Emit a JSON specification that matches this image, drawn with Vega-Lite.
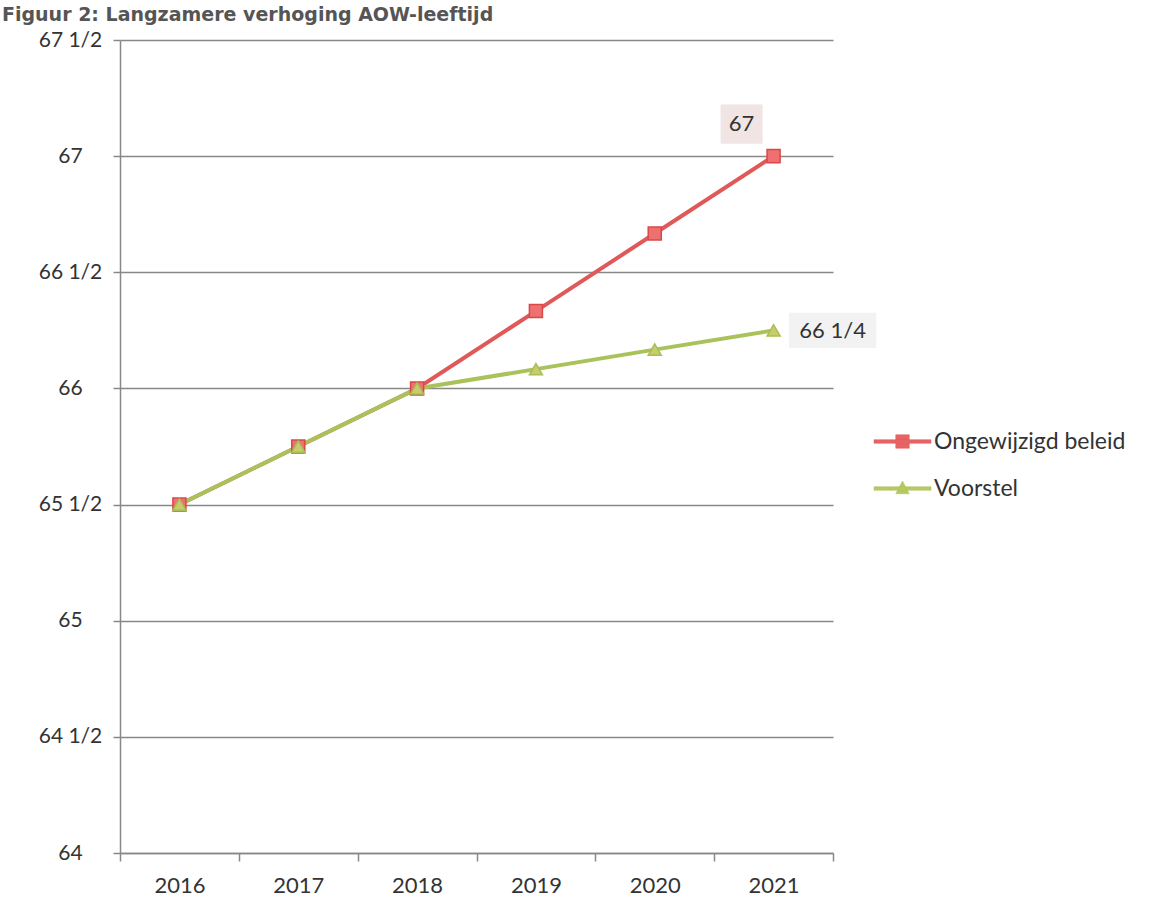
{
  "$schema": "https://vega.github.io/schema/vega-lite/v6.json",
  "width": 713,
  "height": 813,
  "autosize": "none",
  "padding": {"left": 120, "top": 40, "right": 318, "bottom": 60},
  "background": "white",
  "title": {
    "text": "Figuur 2: Langzamere verhoging AOW-leeftijd",
    "anchor": "start",
    "frame": "group",
    "dx": -118,
    "offset": 4,
    "fontSize": 19,
    "fontWeight": "bold",
    "font": "DejaVu Sans",
    "color": "#555555"
  },
  "config": {
    "view": {"stroke": null},
    "font": "Lato"
  },
  "data": {
    "values": [
      {"year": "2016", "series": "Ongewijzigd beleid", "age": 65.5, "label": ""},
      {"year": "2017", "series": "Ongewijzigd beleid", "age": 65.75, "label": ""},
      {"year": "2018", "series": "Ongewijzigd beleid", "age": 66, "label": ""},
      {"year": "2019", "series": "Ongewijzigd beleid", "age": 66.333, "label": ""},
      {"year": "2020", "series": "Ongewijzigd beleid", "age": 66.667, "label": ""},
      {"year": "2021", "series": "Ongewijzigd beleid", "age": 67, "label": "67"},
      {"year": "2016", "series": "Voorstel", "age": 65.5, "label": ""},
      {"year": "2017", "series": "Voorstel", "age": 65.75, "label": ""},
      {"year": "2018", "series": "Voorstel", "age": 66, "label": ""},
      {"year": "2019", "series": "Voorstel", "age": 66.083, "label": ""},
      {"year": "2020", "series": "Voorstel", "age": 66.167, "label": ""},
      {"year": "2021", "series": "Voorstel", "age": 66.25, "label": "66 1/4"}
    ]
  },
  "encoding": {
    "x": {
      "field": "year",
      "type": "ordinal",
      "scale": {"type": "band", "paddingInner": 0, "paddingOuter": 0},
      "axis": {
        "title": null,
        "labelAngle": 0,
        "labelFontSize": 22,
        "labelColor": "#333333",
        "labelPadding": 14,
        "tickBand": "extent",
        "tickSize": 8,
        "tickColor": "#888888",
        "tickWidth": 1.5,
        "domainColor": "#888888",
        "domainWidth": 1.5,
        "grid": false
      }
    },
    "y": {
      "field": "age",
      "type": "quantitative",
      "scale": {"domain": [64, 67.5], "nice": false, "zero": false},
      "axis": {
        "title": null,
        "values": [64, 64.5, 65, 65.5, 66, 66.5, 67, 67.5],
        "labelExpr": "floor(datum.value) + (datum.value % 1 ? ' 1/2' : '')",
        "labelFontSize": 21,
        "labelColor": "#333333",
        "labelAlign": "center",
        "labelPadding": 43,
        "tickSize": 7,
        "tickColor": "#888888",
        "tickWidth": 1.5,
        "domainColor": "#888888",
        "domainWidth": 1.5,
        "grid": true,
        "gridColor": "#888888",
        "gridWidth": 1.5
      }
    }
  },
  "layer": [
    {
      "transform": [{"filter": "datum.label == '67'"}],
      "mark": {"type": "point", "shape": "M-2.65,-2.58L-0.55,-2.58L-0.55,-0.62L-2.65,-0.62Z", "filled": true, "fill": "#F0E4E4", "opacity": 1, "strokeWidth": 0, "size": 1600}
    },
    {
      "transform": [{"filter": "datum.label == '66 1/4'"}],
      "mark": {"type": "point", "shape": "M0.77,-0.88L5.13,-0.88L5.13,0.88L0.77,0.88Z", "filled": true, "fill": "#F2F2F2", "opacity": 1, "strokeWidth": 0, "size": 1600}
    },
    {
      "mark": {"type": "line", "strokeWidth": 4},
      "encoding": {
        "color": {
          "field": "series",
          "type": "nominal",
          "scale": {"domain": ["Ongewijzigd beleid", "Voorstel"], "range": ["#E05858", "#A9C25A"]},
          "legend": {
            "title": null,
            "orient": "none",
            "legendX": 767,
            "legendY": 386,
            "padding": 0,
            "symbolSize": 900,
            "rowPadding": 19,
            "labelOffset": 16,
            "labelFontSize": 23,
            "labelLimit": 400,
            "labelColor": "#333333",
            "labelFont": "Lato",
            "encode": {
              "symbols": {
                "update": {
                  "shape": {"signal": "datum.value === 'Voorstel' ? 'M-1.9,-0.12L1.9,-0.12L1.9,0.12L-1.9,0.12Z M0,-0.5L0.45,0.35L-0.45,0.35Z' : 'M-1.9,-0.12L1.9,-0.12L1.9,0.12L-1.9,0.12Z M-0.45,-0.45L0.45,-0.45L0.45,0.45L-0.45,0.45Z'"},
                  "fill": {"signal": "datum.value === 'Voorstel' ? '#B8C862' : '#E86464'"},
                  "stroke": {"signal": "datum.value === 'Voorstel' ? '#A9C25A' : '#D94848'"},
                  "strokeWidth": {"value": 0.5},
                  "opacity": {"value": 1}
                }
              }
            }
          }
        }
      }
    },
    {
      "transform": [{"filter": "datum.series == 'Ongewijzigd beleid'"}],
      "mark": {"type": "point", "shape": "square", "filled": true, "fill": "#EE7070", "stroke": "#D94848", "strokeWidth": 1.5, "opacity": 1, "size": 170}
    },
    {
      "transform": [{"filter": "datum.series == 'Voorstel'"}],
      "mark": {"type": "point", "shape": "triangle-up", "filled": true, "fill": "#C6CD6A", "stroke": "#A9BE55", "strokeWidth": 1.5, "opacity": 1, "size": 170}
    },
    {
      "transform": [{"filter": "datum.label == '67'"}],
      "mark": {"type": "text", "dx": -32, "dy": -32, "fontSize": 22, "color": "#333333", "font": "Lato"},
      "encoding": {"text": {"field": "label"}}
    },
    {
      "transform": [{"filter": "datum.label == '66 1/4'"}],
      "mark": {"type": "text", "dx": 59, "dy": 1, "fontSize": 22, "color": "#333333", "font": "Lato"},
      "encoding": {"text": {"field": "label"}}
    }
  ]
}
